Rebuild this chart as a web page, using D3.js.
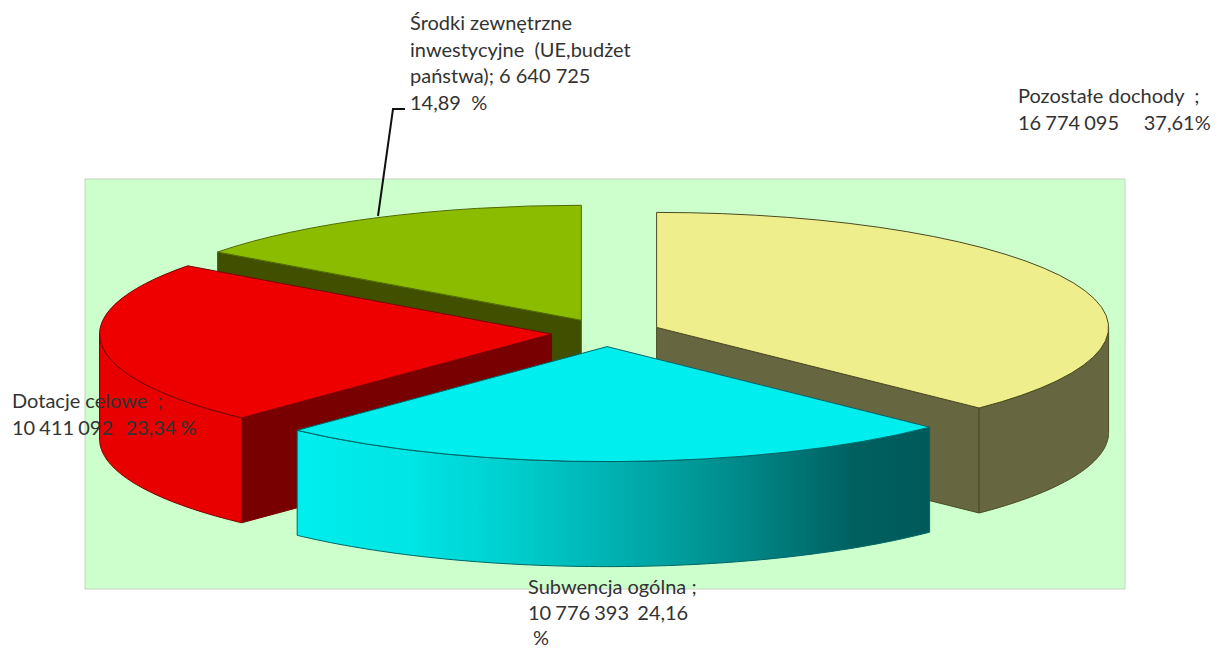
<!DOCTYPE html>
<html>
<head>
<meta charset="utf-8">
<script src="https://cdn.jsdelivr.net/npm/d3@7"></script>
<style>
html,body{margin:0;padding:0;background:#fff}
svg{display:block}
text{font-family:Lato,"Open Sans",sans-serif;font-size:20px;fill:#333;white-space:pre}
</style>
</head>
<body>
<script>
const categories = ["Pozostałe dochody", "Subwencja ogólna", "Dotacje celowe", "Środki zewnętrzne inwestycyjne (UE,budżet państwa)"];
const values = [16774095, 10776393, 10411092, 6640725];
const labelLines = [
  ["Pozostałe dochody  ;", "16 774 095      37,61%"],
  ["Subwencja ogólna ;", "10 776 393  24,16", " %"],
  ["Dotacje celowe  ;", "10 411 092   23,34 %"],
  ["Środki zewnętrzne", "inwestycyjne  (UE,budżet", "państwa); 6 640 725", "14,89  %"]
];
const topColors  = ["#EEEE8C", "#00EEEE", "#EE0000", "#8CBC00"];
const faceColors = ["#666640", "#005F5F", "#780000", "#404F00"];
const rimColors  = ["#666640", "url(#rimCyan)", "#E80000", "#404F00"];
const edgeColors = ["#4a4a20", "#006666", "#7a0000", "#4f6a00"];

// layout
const W = 1220, H = 648;
const panel = {x: 85, y: 179, w: 1040, h: 410};
const centre = {x: 606, y: 332.7};
const rx = 452, ry = 115, depth = 105, explode = 0.121;
const perspective = 0.016; // front half of the disc is slightly stretched by the 3D view
const labelPos = [
  {x: 1018, y: 103, dy: 27},
  {x: 528, y: 594, dy: 25.5},
  {x: 12, y: 408, dy: 27},
  {x: 410, y: 30, dy: 26.6}
];
const leaderPts = [[378, 216], [393, 109], [405, 109]];
const drawOrder = [3, 2, 0, 1];

const svg = d3.select("body").append("svg").attr("width", W).attr("height", H);
const grad = svg.append("defs").append("linearGradient")
  .attr("id", "rimCyan").attr("gradientUnits", "userSpaceOnUse")
  .attr("x1", 298).attr("x2", 929).attr("y1", 0).attr("y2", 0);
[[0, "#00EEEE"], [0.18, "#00E4E4"], [0.35, "#00CCCC"], [0.55, "#00A8A8"], [0.72, "#008585"], [0.88, "#006060"], [1, "#005A5A"]]
  .forEach(([o, c]) => grad.append("stop").attr("offset", o).attr("stop-color", c));

svg.append("rect").attr("x", panel.x).attr("y", panel.y).attr("width", panel.w).attr("height", panel.h)
  .attr("fill", "#CCFFCC").attr("stroke", "#C4D4C4").attr("stroke-width", 1);

const warp = a => Math.cos(a) < 0 ? a + perspective * Math.sin(2 * a) : a;
const arcs = d3.pie().sort(null).startAngle(0).endAngle(2 * Math.PI)(values)
  .map(d => ({startAngle: warp(d.startAngle), endAngle: warp(d.endAngle), mid: (d.startAngle + d.endAngle) / 2}));
const sx = d3.scaleLinear().domain([-1, 1]).range([-rx, rx]);
const sy = d3.scaleLinear().domain([-1, 1]).range([ry, -ry]);
const line = d3.line();
const arcGen = d3.arc().innerRadius(0).outerRadius(rx);

function rimPt(a, c, dz) { return [c.x + sx(Math.sin(a)), c.y + sy(Math.cos(a)) + dz]; }

function drawSlice(i) {
  const d = arcs[i];
  const mid = d.mid;
  const c = {x: centre.x + sx(Math.sin(mid)) * explode, y: centre.y + sy(Math.cos(mid)) * explode};
  const g = svg.append("g");
  const edge = edgeColors[i];

  // radial cut faces
  const faces = [];
  if (Math.sin(d.startAngle) < -1e-6) faces.push(d.startAngle);
  if (Math.sin(d.endAngle) > 1e-6) faces.push(d.endAngle);
  faces.forEach(a => {
    const p = rimPt(a, c, 0), q = rimPt(a, c, depth);
    g.append("path")
      .attr("d", line([[c.x, c.y], p, q, [c.x, c.y + depth]]) + "Z")
      .attr("fill", faceColors[i]).attr("stroke", edge).attr("stroke-width", 1).attr("stroke-linejoin", "round");
  });

  // outer rim, front part only
  const a0 = Math.max(d.startAngle, Math.PI / 2), a1 = Math.min(d.endAngle, 3 * Math.PI / 2);
  if (a1 > a0) {
    const ts = d3.range(0, 1.0001, 1 / 80).map(t => a0 + (a1 - a0) * t);
    const pts = ts.map(a => rimPt(a, c, 0)).concat(ts.slice().reverse().map(a => rimPt(a, c, depth)));
    g.append("path").attr("d", line(pts) + "Z")
      .attr("fill", rimColors[i]).attr("stroke", edge).attr("stroke-width", 1).attr("stroke-linejoin", "round");
  }

  // top face
  g.append("path")
    .attr("d", arcGen({startAngle: d.startAngle, endAngle: d.endAngle}))
    .attr("transform", `translate(${c.x},${c.y}) scale(1,${ry / rx})`)
    .attr("vector-effect", "non-scaling-stroke")
    .attr("fill", topColors[i]).attr("stroke", edge).attr("stroke-width", 1).attr("stroke-linejoin", "round");
}
drawOrder.forEach(drawSlice);

svg.append("path").attr("d", line(leaderPts)).attr("fill", "none")
  .attr("stroke", "#111").attr("stroke-width", 2);

labelLines.forEach((lines, i) => {
  const p = labelPos[i];
  const t = svg.append("text").attr("xml:space", "preserve");
  lines.forEach((s, k) => t.append("tspan")
    .attr("x", p.x).attr("y", p.y + k * p.dy)
    .attr("word-spacing", /^\d+ \d/.test(s) ? -1 : 0)
    .text(s));
});
</script>
</body>
</html>
